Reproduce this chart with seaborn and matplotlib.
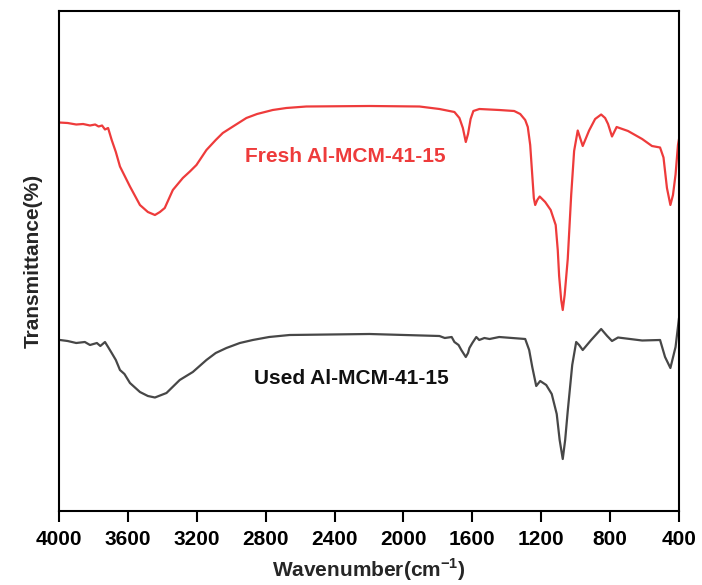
import pandas as pd
import matplotlib
matplotlib.use('Agg')
import matplotlib.pyplot as plt
from matplotlib import font_manager
import seaborn as sns

# FTIR spectra (wavenumber in cm-1, transmittance in arbitrary %)
fresh_wn = [4000, 3950, 3900, 3860, 3820, 3790, 3770, 3750, 3733, 3715, 3694, 3670,
            3646, 3588, 3530, 3484, 3443, 3414, 3386, 3339, 3281, 3240, 3202, 3144,
            3090, 3049, 2990, 2912, 2850, 2759, 2680, 2564, 2197, 1907, 1791, 1704,
            1675, 1655, 1638, 1625, 1610, 1594, 1559,
            1444, 1357, 1322, 1293, 1278, 1264, 1243, 1235, 1223, 1209, 1177, 1145,
            1116, 1104, 1096, 1084, 1075, 1064, 1046, 1026, 1009, 988, 974, 959,
            922, 887, 852, 829, 812, 789, 762, 696, 614, 557, 510, 490, 470, 450,
            435, 420, 406, 400]
fresh_t = [77.7, 77.6, 77.3, 77.4, 77.1, 77.3, 76.9, 77.1, 76.3, 76.6, 74.2, 71.8,
           68.9, 64.9, 61.2, 59.8, 59.2, 59.8, 60.6, 64.2, 66.6, 67.9, 69.2, 72.2,
           74.2, 75.6, 76.9, 78.6, 79.4, 80.2, 80.6, 80.9, 81.0, 80.9, 80.4, 79.8,
           78.6, 76.6, 73.8, 75.4, 78.4, 80.0, 80.4,
           80.2, 80.0, 79.4, 78.2, 76.8, 73.2, 62.6, 61.2, 62.2, 62.9, 61.8, 60.2,
           57.2, 52.2, 47.0, 42.2, 40.2, 43.2, 50.4, 63.2, 72.0, 76.1, 74.6, 73.0,
           76.1, 78.4, 79.3, 78.6, 77.4, 74.9, 76.8, 76.0, 74.4, 73.0, 72.7, 70.7,
           64.6, 61.2, 63.2, 67.3, 73.2, 74.4]

used_wn = [3994, 3950, 3900, 3850, 3820, 3780, 3760, 3733, 3715, 3694, 3670, 3646,
           3620, 3588, 3530, 3484, 3443, 3376, 3299, 3223, 3144, 3090, 3028, 2950,
           2875, 2780, 2661, 2197, 1791, 1760, 1720, 1704, 1680, 1664, 1638, 1625,
           1617, 1600, 1577, 1560, 1530, 1500, 1444, 1293, 1270, 1252, 1229, 1206,
           1171, 1139, 1110, 1093, 1075, 1061, 1046, 1020, 997, 980, 959, 910, 852,
           817, 789, 754, 614, 510, 481, 450, 420, 400]
used_t = [34.2, 34.0, 33.6, 33.8, 33.2, 33.6, 33.0, 33.8, 32.8, 31.6, 30.2, 28.2,
          27.4, 25.6, 23.8, 23.0, 22.7, 23.6, 26.2, 27.8, 30.2, 31.6, 32.6, 33.6,
          34.2, 34.8, 35.2, 35.4, 35.0, 34.6, 34.8, 33.8, 33.2, 32.2, 30.8, 31.6,
          32.6, 33.6, 34.8, 34.2, 34.6, 34.4, 34.8, 34.4, 32.2, 28.8, 25.0, 26.0,
          25.2, 23.4, 19.4, 14.2, 10.4, 14.2, 20.0, 29.2, 33.8, 33.2, 32.2, 34.2,
          36.4, 35.0, 34.0, 34.7, 34.1, 34.2, 30.8, 28.6, 32.8, 38.6]

series_labels = ['Fresh Al-MCM-41-15', 'Used Al-MCM-41-15']
x_ticks = [4000, 3600, 3200, 2800, 2400, 2000, 1600, 1200, 800, 400]

fresh = pd.DataFrame({'wn': fresh_wn, 't': fresh_t})
used = pd.DataFrame({'wn': used_wn, 't': used_t})

sns.set_style('white')
plt.rcParams['font.family'] = ['Liberation Sans', 'DejaVu Sans']

names = {f.name for f in font_manager.fontManager.ttflist}
if 'Liberation Sans Narrow' in names:
    axis_font = 'Liberation Sans Narrow'
    axis_size = 17.5
else:
    axis_font = 'Liberation Sans'
    axis_size = 15
plt.rcParams['mathtext.fontset'] = 'custom'
plt.rcParams['mathtext.rm'] = axis_font
plt.rcParams['mathtext.bf'] = axis_font + ':bold'

fig = plt.figure(figsize=(7.02, 5.85), dpi=100)
ax = fig.add_axes([59 / 702, 74 / 585, 620 / 702, 500 / 585])

sns.lineplot(data=fresh, x='wn', y='t', color='#EE3B3B', lw=1.6, ax=ax)
sns.lineplot(data=used, x='wn', y='t', color='#474747', lw=1.6, ax=ax)

ax.set_xlim(4000, 400)
ax.set_ylim(0, 100)
ax.set_xticks(x_ticks)
ax.set_yticks([])

for s in ax.spines.values():
    s.set_visible(True)
    s.set_color('black')
    s.set_linewidth(1.5)

ax.tick_params(axis='x', direction='out', length=8, width=1.5, pad=6,
               bottom=True, top=False, colors='black')
for lab in ax.get_xticklabels():
    lab.set_fontfamily(axis_font)
    lab.set_fontsize(axis_size)
    lab.set_fontweight('bold')

ax.set_xlabel('Wavenumber(cm$^{\\mathbf{-1}}$)', fontfamily=axis_font,
              fontsize=axis_size, fontweight='bold', labelpad=5)
ax.set_ylabel('Transmittance(%)', fontsize=15, fontweight='bold', labelpad=12)

ax.text(0.461, 0.708, series_labels[0], transform=ax.transAxes, color='#EE3B3B',
        fontsize=15, fontweight='bold', ha='center', va='center')
ax.text(0.471, 0.264, series_labels[1], transform=ax.transAxes, color='#111111',
        fontsize=15, fontweight='bold', ha='center', va='center')

fig.savefig('out.png', dpi=100)
plt.close(fig)
